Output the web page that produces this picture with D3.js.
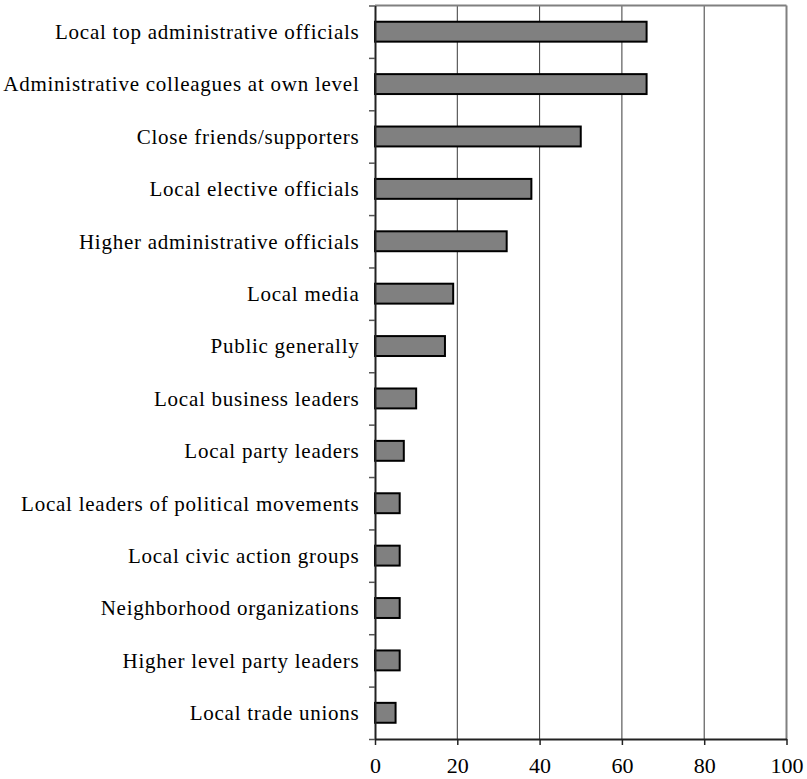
<!DOCTYPE html>
<html>
<head>
<meta charset="utf-8">
<script src="https://cdn.jsdelivr.net/npm/d3@7"></script>
<style>
  body { margin: 0; background: #fff; }
  svg text { font-family: "Liberation Serif", "Times New Roman", serif; fill: #000; }
</style>
</head>
<body>
<div id="chart"></div>
<script>
// categories top to bottom
var categories = [
    "Local top administrative officials",
    "Administrative colleagues at own level",
    "Close friends/supporters",
    "Local elective officials",
    "Higher administrative officials",
    "Local media",
    "Public generally",
    "Local business leaders",
    "Local party leaders",
    "Local leaders of political movements",
    "Local civic action groups",
    "Neighborhood organizations",
    "Higher level party leaders",
    "Local trade unions"
];
var values = [66, 66, 50, 38, 32, 19, 17, 10, 7, 6, 6, 6, 6, 5];
var xTicks = [0, 20, 40, 60, 80, 100];

function init() {
    var w = 807;
    var h = 779;
    var margin = {top: 5.5, right: 20.5, left: 375};
    var plotBottom = 739;

    var svg = d3.select("#chart")
        .append("svg")
        .attr("width", w)
        .attr("height", h);

    var xScale = d3.scaleLinear()
        .domain([0, 100])
        .range([margin.left, w - margin.right]);

    var yScale = d3.scaleBand()
        .domain(categories)
        .range([margin.top, plotBottom])
        .padding(0);

    // boundary ticks on the category axis
    var yIdx = d3.scaleLinear()
        .domain([0, categories.length])
        .range([margin.top, plotBottom]);

    // gridlines
    svg.append("g")
        .selectAll("line")
        .data(xTicks.slice(1, -1))
        .enter()
        .append("line")
        .attr("x1", function(d) { return xScale(d); })
        .attr("x2", function(d) { return xScale(d); })
        .attr("y1", margin.top)
        .attr("y2", plotBottom)
        .attr("stroke", "#3a3a3a")
        .attr("stroke-width", 1);

    // top and right frame (grey)
    svg.append("line")
        .attr("x1", margin.left).attr("x2", xScale(100))
        .attr("y1", margin.top).attr("y2", margin.top)
        .attr("stroke", "#808080").attr("stroke-width", 2);
    svg.append("line")
        .attr("x1", xScale(100)).attr("x2", xScale(100))
        .attr("y1", margin.top).attr("y2", plotBottom)
        .attr("stroke", "#808080").attr("stroke-width", 2);

    // bars
    var barH = yScale.bandwidth() * 0.38;
    svg.append("g")
        .selectAll("rect")
        .data(values)
        .enter()
        .append("rect")
        .attr("x", xScale(0))
        .attr("y", function(d, i) { return yScale(categories[i]) + (yScale.bandwidth() - barH) / 2; })
        .attr("width", function(d) { return xScale(d) - xScale(0); })
        .attr("height", barH)
        .attr("fill", "#808080")
        .attr("stroke", "#000")
        .attr("stroke-width", 2);

    // x axis
    var xAxis = d3.axisBottom(xScale)
        .tickValues(xTicks)
        .tickSize(6)
        .tickPadding(12)
        .tickSizeOuter(0);
    var gx = svg.append("g")
        .attr("transform", "translate(0," + plotBottom + ")")
        .call(xAxis);
    gx.select(".domain").attr("stroke", "#222").attr("stroke-width", 2);
    gx.selectAll(".tick line").attr("stroke", "#222").attr("stroke-width", 1.5);
    gx.selectAll("text")
        .style("font-family", "'Liberation Serif', serif")
        .style("font-size", "22px")
        .attr("fill", "#000");

    // y axis (ticks at category boundaries)
    var yAxis = d3.axisLeft(yIdx)
        .ticks(categories.length)
        .tickSize(6)
        .tickSizeOuter(0)
        .tickFormat("");
    var gy = svg.append("g")
        .attr("transform", "translate(" + margin.left + ",0)")
        .call(yAxis);
    gy.select(".domain").attr("stroke", "#222").attr("stroke-width", 2);
    gy.selectAll(".tick line").attr("stroke", "#555").attr("stroke-width", 1.5);

    // category labels
    svg.append("g")
        .selectAll("text")
        .data(categories)
        .enter()
        .append("text")
        .attr("x", margin.left - 15.5)
        .attr("y", function(d) { return yScale(d) + yScale.bandwidth() / 2; })
        .attr("dy", "0.35em")
        .attr("text-anchor", "end")
        .style("font-size", "21px")
        .style("letter-spacing", "0.75px")
        .text(function(d) { return d; });
}
window.onload = init;
</script>
</body>
</html>
